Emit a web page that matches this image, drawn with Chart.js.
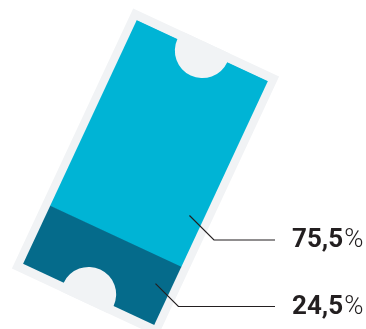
<!DOCTYPE html>
<html lang="en">
<head>
    <meta charset="UTF-8">
    <title>Ticket share</title>
    <script src="https://cdn.jsdelivr.net/npm/chart.js"></script>
    <style>
        html, body { margin: 0; padding: 0; background: #fff; }
        canvas { display: block; }
    </style>
</head>
<body>
    <canvas id="ticketChart" width="366" height="329"></canvas>

    <script>
        const categories = ['Ticket'];
        const lowerShare = [24.5];
        const upperShare = [75.5];

        const lowerColor = '#056b8b';
        const upperColor = '#00b4d5';
        const stubColor = '#f1f3f5';
        const inkColor = '#231f20';

        // the whole bar is tilted around this point
        const pivotX = 145.5;
        const pivotY = 172.5;
        const tilt = 25 * Math.PI / 180;

        function toScreen(x, y) {
            const dx = x - pivotX;
            const dy = y - pivotY;
            return {
                x: pivotX + dx * Math.cos(tilt) - dy * Math.sin(tilt),
                y: pivotY + dx * Math.sin(tilt) + dy * Math.cos(tilt)
            };
        }

        const ticketPlugin = {
            id: 'ticket',
            beforeDatasetsDraw(chart) {
                const ctx = chart.ctx;
                ctx.save();
                ctx.translate(pivotX, pivotY);
                ctx.rotate(tilt);
                ctx.translate(-pivotX, -pivotY);
                ctx.fillStyle = stubColor;
                ctx.fillRect(pivotX - 80.5, pivotY - 143.5, 161, 287);
            },
            afterDatasetsDraw(chart) {
                const ctx = chart.ctx;
                const yScale = chart.scales.y;
                const bar = chart.getDatasetMeta(0).data[0];

                // punched notches, kept inside the paper edge
                ctx.save();
                ctx.beginPath();
                ctx.rect(pivotX - 80.5, pivotY - 143.5, 161, 287);
                ctx.clip();
                ctx.fillStyle = stubColor;
                [yScale.top, yScale.bottom].forEach(function (y) {
                    ctx.beginPath();
                    ctx.arc(bar.x, y, 27.5, 0, Math.PI * 2);
                    ctx.fill();
                });
                ctx.restore();
                ctx.restore();

                drawLabel(ctx, toScreen(bar.x + 58, yScale.getPixelForValue(43)), 240, upperShare[0]);
                drawLabel(ctx, toScreen(bar.x + 56, yScale.getPixelForValue(15)), 306.5, lowerShare[0]);
            }
        };

        function drawLabel(ctx, from, lineY, value) {
            ctx.save();
            ctx.strokeStyle = inkColor;
            ctx.lineWidth = 1.2;
            ctx.beginPath();
            ctx.moveTo(from.x, from.y);
            ctx.lineTo(from.x + (lineY - from.y), lineY);
            ctx.lineTo(275, lineY);
            ctx.stroke();

            const text = value.toFixed(1).replace('.', ',');
            const baseline = Math.round(lineY) + 7;
            ctx.fillStyle = inkColor;
            ctx.textBaseline = 'alphabetic';
            ctx.font = 'bold 26px Roboto';
            ctx.fillText(text, 292, baseline);
            const width = ctx.measureText(text).width;
            ctx.font = '300 26px Roboto';
            ctx.fillText('%', 293 + width, baseline);
            ctx.restore();
        }

        new Chart(document.getElementById('ticketChart'), {
            type: 'bar',
            data: {
                labels: categories,
                datasets: [
                    { label: 'Lower', data: lowerShare, backgroundColor: lowerColor, barThickness: 144 },
                    { label: 'Upper', data: upperShare, backgroundColor: upperColor, barThickness: 144 }
                ]
            },
            options: {
                responsive: false,
                animation: false,
                layout: { padding: { left: 45, right: 120, top: 38, bottom: 22 } },
                plugins: { legend: { display: false }, tooltip: { enabled: false } },
                scales: {
                    x: { display: false, stacked: true },
                    y: { display: false, stacked: true, min: 1, max: 100 }
                }
            },
            plugins: [ticketPlugin]
        });
    </script>
</body>
</html>
